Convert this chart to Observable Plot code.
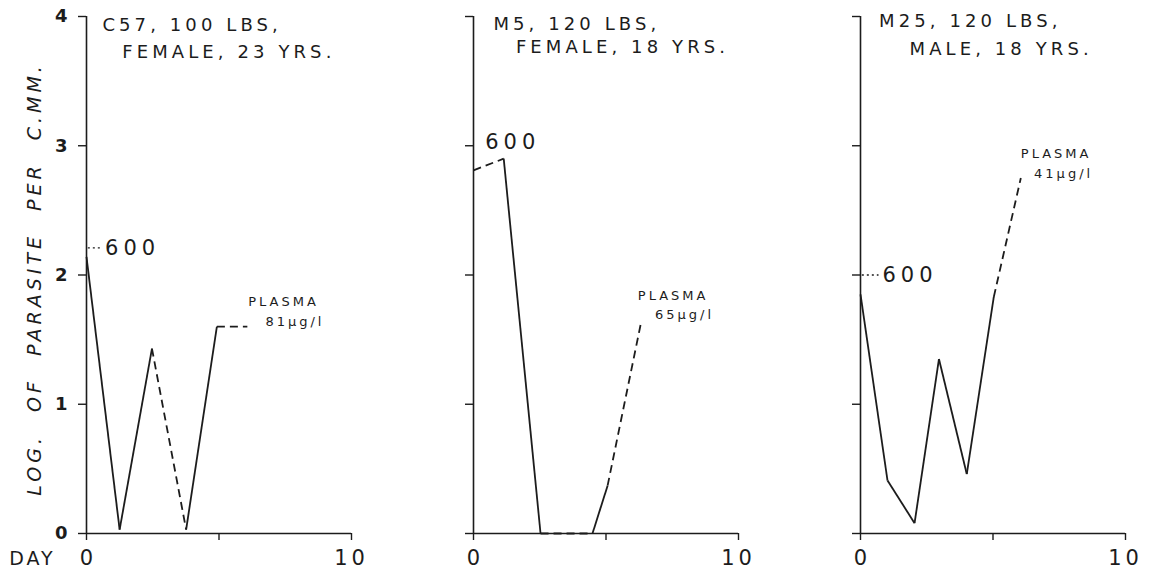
<!DOCTYPE html>
<html>
<head>
<meta charset="utf-8">
<script src="https://cdn.jsdelivr.net/npm/d3@7"></script>
<script src="https://cdn.jsdelivr.net/npm/@observablehq/plot@0.6"></script>
<style>
  html, body { margin: 0; padding: 0; background: #fff; }
  #chart { width: 1151px; height: 569px; }
</style>
</head>
<body>
<div id="chart"></div>
<script>
// ---- data ----
const panels = ["C57", "M5", "M25"];
const titleLine1 = ["C57, 100 LBS,", "M5, 120 LBS,", "M25, 120 LBS,"];
const titleLine2 = ["FEMALE, 23 YRS.", "FEMALE, 18 YRS.", "MALE, 18 YRS."];
const title1Day = [0.6, 0.75, 0.7];
const title1Log = [3.93, 3.94, 3.96];
const title2Day = [1.35, 1.6, 1.85];
const title2Log = [3.72, 3.76, 3.75];

// parasite counts (log per c.mm) by day; trace kind between consecutive points
const c57Day = [0, 1.25, 2.47, 3.76, 4.92, 6.07];
const c57Log = [2.14, 0.03, 1.43, 0.03, 1.6, 1.6];
const c57Kind = ["continuous", "continuous", "broken", "continuous", "broken"];

const m5Day = [0, 1.14, 2.53, 4.49, 5.06, 6.33];
const m5Log = [2.81, 2.9, 0, 0, 0.37, 1.64];
const m5Kind = ["broken", "continuous", "broken", "continuous", "broken"];

const m25Day = [0, 1.02, 2.04, 2.96, 4.01, 5.03, 6.05];
const m25Log = [1.85, 0.41, 0.08, 1.35, 0.46, 1.83, 2.75];
const m25Kind = ["continuous", "continuous", "continuous", "continuous", "continuous", "broken"];

const countText = ["600", "600", "600"];
const countDay = [0.7, 0.44, 0.83];
const countLog = [2.21, 3.03, 2.0];

const plasmaWord = ["PLASMA", "PLASMA", "PLASMA"];
const plasmaWordDay = [6.1, 6.2, 6.05];
const plasmaWordLog = [1.79, 1.84, 2.94];
const plasmaText = ["81\u00b5g/l", "65\u00b5g/l", "41\u00b5g/l"];
const plasmaTextDay = [6.75, 6.85, 6.55];
const plasmaTextLog = [1.64, 1.69, 2.78];

const yTicks = [0, 1, 2, 3, 4];
const yTickLabels = ["0", "1", "2", "3", "4"];
const xTicks = [0, 5, 10];
const xTickLabels = [{v: 0, t: "0"}, {v: 10, t: "10"}];
const yTitle = "LOG. OF PARASITE PER C.MM.";
const xTitle = "DAY";

// ---- build tables ----
const series = [
  {panel: panels[0], day: c57Day, log: c57Log, kind: c57Kind},
  {panel: panels[1], day: m5Day, log: m5Log, kind: m5Kind},
  {panel: panels[2], day: m25Day, log: m25Log, kind: m25Kind}
];
const segs = [];
for (const s of series) {
  for (let j = 0; j < s.kind.length; j++) {
    segs.push({panel: s.panel, x1: s.day[j], y1: s.log[j], x2: s.day[j + 1], y2: s.log[j + 1], kind: s.kind[j]});
  }
}
const ann = panels.map((p, i) => ({
  panel: p,
  t1: titleLine1[i], t1x: title1Day[i], t1y: title1Log[i],
  t2: titleLine2[i], t2x: title2Day[i], t2y: title2Log[i],
  c: countText[i], cx: countDay[i], cy: countLog[i],
  pw: plasmaWord[i], pwx: plasmaWordDay[i], pwy: plasmaWordLog[i],
  pt: plasmaText[i], ptx: plasmaTextDay[i], pty: plasmaTextLog[i]
}));
const leaders = [ann[0], ann[2]];

const ink = "#1c1c1c";
const font = "DejaVu Sans";

const chart = Plot.plot({
  width: 1151,
  height: 569,
  marginTop: 16,
  marginBottom: 36,
  marginLeft: 85,
  marginRight: 26,
  style: {fontFamily: font, background: "#fff", color: ink},
  fx: {domain: panels, axis: null, paddingInner: 0.316, paddingOuter: 0},
  x: {domain: [0, 10], axis: null},
  y: {domain: [0, 4], axis: null},
  marks: [
    // axis frames
    Plot.ruleX([0], {y1: 0, y2: 4, stroke: ink, strokeWidth: 1.6}),
    Plot.ruleY([0], {x1: 0, x2: 10, stroke: ink, strokeWidth: 1.6}),
    Plot.axisY({ticks: yTicks, tickSize: 8, tickFormat: () => "", label: null, facetAnchor: null, stroke: ink, strokeWidth: 1.4}),
    Plot.axisX({ticks: xTicks, tickSize: 7, tickFormat: () => "", label: null, facetAnchor: null, stroke: ink, strokeWidth: 1.4}),
    // tick labels
    Plot.text(yTicks, {x: 0, y: d => d, fx: yTicks.map(() => panels[0]), text: yTickLabels, dx: -19, textAnchor: "end",
      fontSize: 18, fontWeight: "bold", fill: ink}),
    Plot.text(xTickLabels, {x: "v", y: 0, text: "t", dy: 25, fontSize: 21, fill: ink}),
    Plot.text([xTitle], {x: 0, y: 0, fx: [panels[0]], text: d => d, dx: -54, dy: 25, fontSize: 19, fill: ink}),
    Plot.text([yTitle], {x: 0, y: 1.97, fx: [panels[0]], text: d => d, dx: -52, rotate: -90, fontSize: 19, fontStyle: "italic", fill: ink}),
    // traces
    Plot.link(segs.filter(d => d.kind === "continuous"), {fx: "panel", x1: "x1", y1: "y1", x2: "x2", y2: "y2", stroke: ink, strokeWidth: 1.8}),
    Plot.link(segs.filter(d => d.kind === "broken"), {fx: "panel", x1: "x1", y1: "y1", x2: "x2", y2: "y2", stroke: ink, strokeWidth: 1.8, strokeDasharray: "8,5"}),
    // 600 leaders and labels
    Plot.link(leaders, {fx: "panel", x1: 0.05, y1: "cy", x2: d => d.cx - 0.15, y2: "cy", stroke: ink, strokeWidth: 1.4, strokeDasharray: "2,3"}),
    Plot.text(ann, {fx: "panel", x: "cx", y: "cy", text: "c", textAnchor: "start", fontSize: 21, fill: ink}),
    // titles
    Plot.text(ann, {fx: "panel", x: "t1x", y: "t1y", text: "t1", textAnchor: "start", fontSize: 18, fill: ink}),
    Plot.text(ann, {fx: "panel", x: "t2x", y: "t2y", text: "t2", textAnchor: "start", fontSize: 18, fill: ink}),
    // plasma notes
    Plot.text(ann, {fx: "panel", x: "pwx", y: "pwy", text: "pw", textAnchor: "start", fontSize: 13, fill: ink}),
    Plot.text(ann, {fx: "panel", x: "ptx", y: "pty", text: "pt", textAnchor: "start", fontSize: 13, fill: ink})
  ]
});

const svg = d3.select(chart);
// drop empty axis tick texts (ticks only)
svg.selectAll("text").filter(function() { return this.textContent === ""; }).remove();
// letter spacing by text group
const spacing = (list, ls, ws) => {
  svg.selectAll("text").filter(function() { return list.includes(this.textContent); })
    .attr("letter-spacing", ls).attr("word-spacing", ws || null);
};
spacing([...titleLine1, ...titleLine2], 4.1);
spacing(countText, 5);
spacing([...plasmaWord, ...plasmaText], 3);
spacing([yTitle], 4, 12);
spacing([xTitle], 3);
spacing(["10"], 4);
document.getElementById("chart").appendChild(chart);
</script>
</body>
</html>
